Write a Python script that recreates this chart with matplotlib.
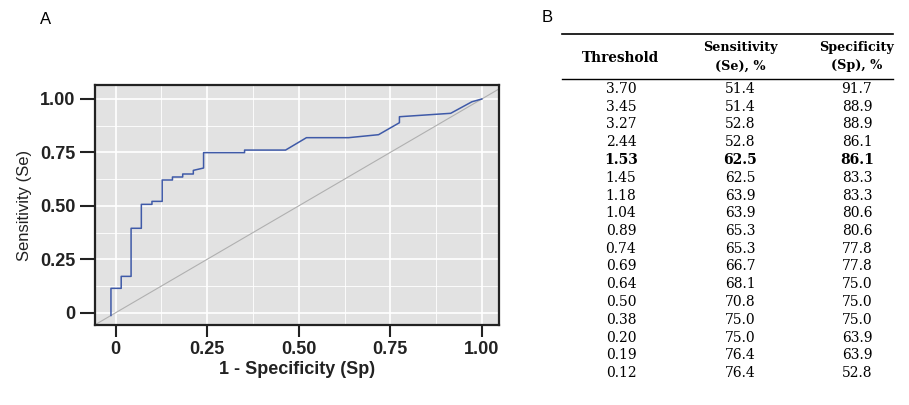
import matplotlib.pyplot as plt
from matplotlib.ticker import MultipleLocator

# ROC curve
fpr = [-0.013, -0.013, 0.015, 0.015, 0.042, 0.042, 0.070, 0.070, 0.099, 0.099,
       0.127, 0.127, 0.155, 0.155, 0.183, 0.183, 0.212, 0.212, 0.240, 0.240,
       0.352, 0.352, 0.464, 0.521, 0.636, 0.718, 0.775, 0.775, 0.915, 0.973, 1.0]
tpr = [-0.013, 0.114, 0.114, 0.170, 0.170, 0.395, 0.395, 0.507, 0.507, 0.521,
       0.521, 0.621, 0.621, 0.635, 0.635, 0.649, 0.649, 0.666, 0.677, 0.749,
       0.749, 0.761, 0.761, 0.819, 0.819, 0.833, 0.889, 0.917, 0.933, 0.987, 1.0]

tick_vals = [0, 0.25, 0.5, 0.75, 1.0]
tick_labels = ["0", "0.25", "0.50", "0.75", "1.00"]

# table in panel B
headers = [["Threshold"], ["Sensitivity", "(Se), %"], ["Specificity", "(Sp), %"]]
thresholds = ["3.70", "3.45", "3.27", "2.44", "1.53", "1.45", "1.18", "1.04", "0.89",
              "0.74", "0.69", "0.64", "0.50", "0.38", "0.20", "0.19", "0.12"]
sensitivity = ["51.4", "51.4", "52.8", "52.8", "62.5", "62.5", "63.9", "63.9", "65.3",
               "65.3", "66.7", "68.1", "70.8", "75.0", "75.0", "76.4", "76.4"]
specificity = ["91.7", "88.9", "88.9", "86.1", "86.1", "83.3", "83.3", "80.6", "80.6",
               "77.8", "77.8", "75.0", "75.0", "75.0", "63.9", "63.9", "52.8"]
bold_row = "1.53"

plt.rcParams["font.family"] = ["Liberation Sans", "DejaVu Sans"]

W, H = 909, 405
fig = plt.figure(figsize=(W / 100, H / 100), dpi=100)

# --- panel A ---
ax = fig.add_axes([94.7 / W, 1 - 325 / H, (499 - 94.7) / W, (325 - 85) / H])
ax.set_facecolor("#e2e2e2")
ax.set_xlim(-0.0574, 1.047)
ax.set_ylim(-0.0576, 1.0655)
ax.xaxis.set_minor_locator(MultipleLocator(0.125))
ax.yaxis.set_minor_locator(MultipleLocator(0.125))
ax.grid(which="major", color="white", linewidth=1.2)
ax.grid(which="minor", color="white", linewidth=0.6)
ax.set_axisbelow(True)
ax.tick_params(which="minor", length=0)

ax.axline((0, 0), (1, 1), color="#b0b0b0", linewidth=0.8)
ax.plot(fpr, tpr, color="#3f5aa8", linewidth=1.1)

ax.set_xticks(tick_vals)
ax.set_xticklabels(tick_labels)
ax.set_yticks(tick_vals)
ax.set_yticklabels(tick_labels)
for lab in ax.get_xticklabels() + ax.get_yticklabels():
    lab.set_fontweight("bold")
    lab.set_fontsize(13)
    lab.set_color("#222222")
ax.tick_params(axis="x", length=8.5, width=1.5, color="#222222", pad=3)
ax.tick_params(axis="y", length=11, width=1.5, color="#222222", pad=3)
for sp in ax.spines.values():
    sp.set_linewidth(1.6)
    sp.set_color("#222222")

ax.set_xlabel("1 - Specificity (Sp)", fontsize=13, fontweight="bold", color="#222222", labelpad=2)
ax.set_ylabel("Sensitivity (Se)", fontsize=12, color="#222222", labelpad=6)

fig.text(46 / W, 1 - 19 / H, "A", fontsize=12, ha="center", va="center")
fig.text(547 / W, 1 - 18 / H, "B", fontsize=12, ha="center", va="center")

# --- panel B: table ---
tab = fig.add_axes([0, 0, 1, 1])
tab.set_xlim(0, W)
tab.set_ylim(H, 0)
tab.axis("off")

col_x = [621, 740, 857]
serif = "DejaVu Serif"
tab.plot([562, 893], [34, 34], color="black", linewidth=1.2)
tab.plot([562, 893], [79, 79], color="black", linewidth=1.0)

for x, head in zip(col_x, headers):
    if len(head) == 1:
        tab.text(x, 58, head[0], family=serif, fontsize=9.8, fontweight="bold",
                 ha="center", va="center")
    else:
        tab.text(x, 47, head[0], family=serif, fontsize=9.2, fontweight="bold",
                 ha="center", va="center")
        tab.text(x, 66, head[1], family=serif, fontsize=9.2, fontweight="bold",
                 ha="center", va="center")

y0, dy = 89, 17.75
for i, row in enumerate(zip(thresholds, sensitivity, specificity)):
    weight = "bold" if row[0] == bold_row else "normal"
    for x, val in zip(col_x, row):
        tab.text(x, y0 + i * dy, val, family=serif, fontsize=10, fontweight=weight,
                 ha="center", va="center")

plt.savefig("out.png", dpi=100)
